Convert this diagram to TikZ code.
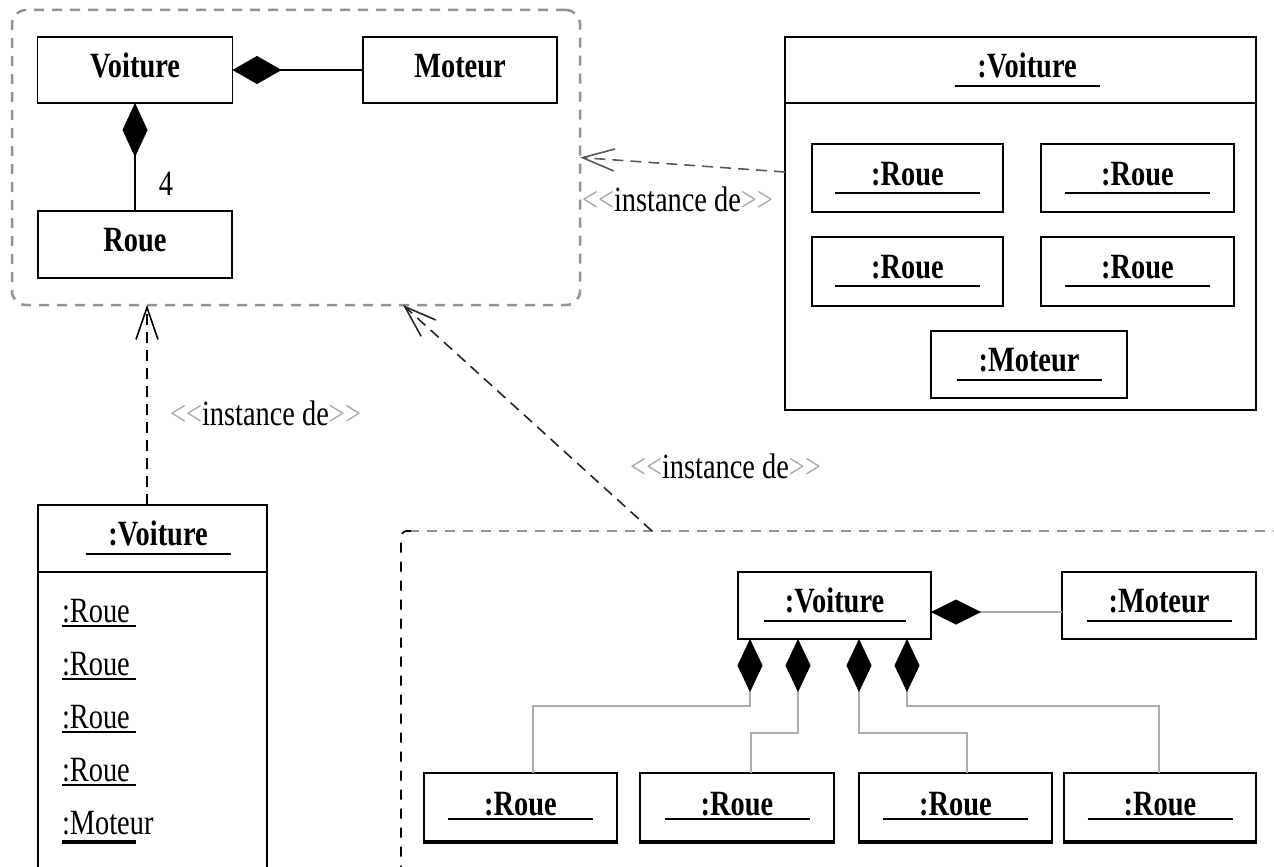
\documentclass[tikz,border=0pt]{standalone}
\usepackage{fontspec}
\setmainfont{Liberation Serif}[FakeStretch=0.8]
\usetikzlibrary{arrows.meta,calc}

% stereotype brackets, kept apart so no guillemet ligature is formed
\newcommand{\stlt}{\textcolor{gray!70}{<\kern0pt<}}
\newcommand{\stgt}{\textcolor{gray!70}{>\kern0pt>}}
% underline bar below an object name: node, half width, offset below centre
\newcommand{\ulbar}[3]{\draw[uline] ([xshift=-#2,yshift=-#3]#1.center) -- ([xshift=#2,yshift=-#3]#1.center);}

\begin{document}
\begin{tikzpicture}[x=1pt,y=-1pt,
  every node/.style={inner sep=0pt,outer sep=0pt},
  fnt/.style={font=\fontsize{35.5pt}{40pt}\selectfont},
  umlbox/.style={draw,line width=1.5pt,fnt,text height=23.5pt,text depth=9pt},
  ttl/.style={fnt,text height=23.5pt,text depth=9pt},
  uline/.style={line width=1.5pt},
  pkg/.style={draw=gray!85,line width=2.5pt,dash pattern=on 10pt off 8pt},
  inst/.style={line width=1.6pt,dash pattern=on 11pt off 7pt,
    -{Straight Barb[length=32pt,width=22pt,line width=1.6pt]}},
  comp/.style n args={2}{line width=1.5pt,
    {Diamond[length=#1,width=#2,color=black,line width=0.5pt]}-},
  compg/.style n args={2}{comp={#1}{#2},draw=gray!65},
]
\useasboundingbox (0,0) rectangle (1274,867);
\fill[white] (0,0) rectangle (1274,867);
\clip (0,0) rectangle (1274,867);

% ---------- class diagram in its package ----------
\node[pkg,rounded corners=14pt,minimum width=568pt,minimum height=295pt] (pkg) at (296,157.5) {};
\node[umlbox,minimum width=195pt,minimum height=66pt] (cV) at (135,70) {\bfseries Voiture};
\node[umlbox,minimum width=194pt,minimum height=66pt] (cM) at (460,70) {\bfseries Moteur};
\node[umlbox,minimum width=194pt,minimum height=67pt] (cR) at (135,244.5) {\bfseries Roue};
\draw[comp={49pt}{28pt}] (cV.east) -- (cM.west);
\draw[comp={54pt}{25pt}] (cV.south) -- (cR.north);
\node[fnt,anchor=base] (mult) at (166,195) {4};

% ---------- composite object (top right) ----------
\node[umlbox,minimum width=471pt,minimum height=373pt] (oV) at (1020.5,223.5) {};
\draw[line width=1.5pt] ([yshift=-66pt]oV.north west) -- ([yshift=-66pt]oV.north east);
\node[ttl] (oVt) at (1027,70) {\bfseries :Voiture};
\ulbar{oVt}{72.5pt}{16pt}
\node[umlbox,minimum width=191pt,minimum height=68pt] (oR1) at (907.5,178) {\bfseries :Roue};
\node[umlbox,minimum width=193pt,minimum height=68pt] (oR2) at (1137.5,178) {\bfseries :Roue};
\node[umlbox,minimum width=191pt,minimum height=69pt] (oR3) at (907.5,271.5) {\bfseries :Roue};
\node[umlbox,minimum width=193pt,minimum height=69pt] (oR4) at (1137.5,271.5) {\bfseries :Roue};
\node[umlbox,minimum width=196pt,minimum height=67pt] (oM) at (1029,364.5) {\bfseries :Moteur};
\ulbar{oR1}{72.5pt}{15pt}
\ulbar{oR2}{72.5pt}{15pt}
\ulbar{oR3}{72.5pt}{14.5pt}
\ulbar{oR4}{72.5pt}{14.5pt}
\ulbar{oM}{72.5pt}{15.5pt}
\draw[inst,draw=gray!70!black] ([yshift=51.5pt]oV.west) -- (pkg.east);
\node[fnt,anchor=base west] (lbl1) at (582,211) {\stlt instance de\stgt};

% ---------- object with listed parts (bottom left) ----------
\node[umlbox,minimum width=229pt,minimum height=400pt,anchor=north] (bV) at (152.5,505) {};
\draw[line width=1.5pt] ([yshift=-67pt]bV.north west) -- ([yshift=-67pt]bV.north east);
\node[ttl] (bVt) at (158,538.5) {\bfseries :Voiture};
\ulbar{bVt}{72.5pt}{15.5pt}
\node[fnt,anchor=base west] (bl1) at (62,622) {:Roue};
\node[fnt,anchor=base west] (bl2) at (62,675) {:Roue};
\node[fnt,anchor=base west] (bl3) at (62,728) {:Roue};
\node[fnt,anchor=base west] (bl4) at (62,781) {:Roue};
\node[fnt,anchor=base west] (bl5) at (62,834) {:Moteur};
\foreach \n in {bl1,bl2,bl3,bl4}
  \draw[uline] ([yshift=-4pt]\n.base west) -- ++(74,0);
\draw[line width=3.5pt] ([yshift=-8pt]bl5.base west) -- ++(74,0);
\draw[inst] ([xshift=-5.5pt]bV.north) -- ([xshift=-5.5pt]bV.north |- pkg.south);
\node[fnt,anchor=base west] (lbl2) at (170,425) {\stlt instance de\stgt};

% ---------- object diagram in its package (bottom right) ----------
\coordinate (pk2) at (401,531);
\draw[pkg] ([xshift=8pt]pk2) -- (1290,531);
\draw[line width=1.8pt,dash pattern=on 10pt off 9pt,rounded corners=6pt]
  ([xshift=10pt]pk2) -- (pk2) -- (401,880);
\coordinate (dstart) at (652,531);
\draw[inst,draw=black!85] (dstart) -- ([xshift=107pt]pkg.south);
\node[fnt,anchor=base west] (lbl3) at (630,478) {\stlt instance de\stgt};

\node[umlbox,minimum width=193pt,minimum height=67pt] (nV) at (834.5,605.5) {\bfseries :Voiture};
\node[umlbox,minimum width=194pt,minimum height=67pt] (nM) at (1159,605.5) {\bfseries :Moteur};
\ulbar{nV}{71pt}{15.5pt}
\ulbar{nM}{72.5pt}{15.5pt}
\node[umlbox,minimum width=193pt,minimum height=70pt] (nR1) at (520.5,808) {\bfseries :Roue};
\node[umlbox,minimum width=194pt,minimum height=70pt] (nR2) at (737,808) {\bfseries :Roue};
\node[umlbox,minimum width=193pt,minimum height=70pt] (nR3) at (955.5,808) {\bfseries :Roue};
\node[umlbox,minimum width=192pt,minimum height=70pt] (nR4) at (1160,808) {\bfseries :Roue};
\foreach \n in {nR1,nR2,nR3,nR4}{
  \draw[line width=4pt] ([yshift=1pt]\n.south west) -- ([yshift=1pt]\n.south east);
  \ulbar{\n}{72.5pt}{11pt}
}
\draw[compg={50pt}{25pt}] ([yshift=-6.5pt]nV.east) -- ([yshift=-6.5pt]nV.east -| nM.west);
\draw[compg={53pt}{25pt}] ([xshift=-84.5pt]nV.south) -- ++(0,67) -| ([xshift=12.5pt]nR1.north);
\draw[compg={53pt}{25pt}] ([xshift=-36.5pt]nV.south) -- ++(0,94) -| ([xshift=14pt]nR2.north);
\draw[compg={53pt}{25pt}] ([xshift=24.5pt]nV.south) -- ++(0,94) -| ([xshift=11.5pt]nR3.north);
\draw[compg={53pt}{25pt}] ([xshift=72.5pt]nV.south) -- ++(0,67) -| ([xshift=-1pt]nR4.north);
\end{tikzpicture}
\end{document}
